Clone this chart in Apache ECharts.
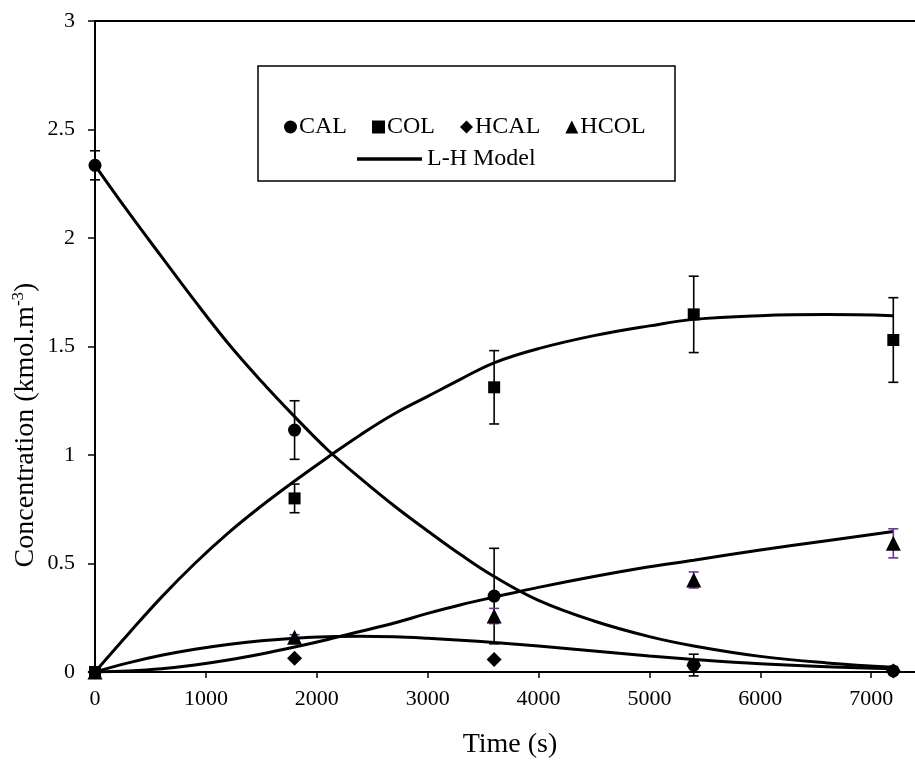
<!DOCTYPE html>
<html>
<head>
<meta charset="utf-8">
<script src="https://cdn.jsdelivr.net/npm/echarts@6/dist/echarts.min.js"></script>
<style>html,body{margin:0;padding:0;background:#fff;}#c{width:915px;height:762px;}</style>
</head>
<body>
<div id="c"></div>
<script>
// Experimental data
const expTime = [0, 1800, 3600, 5400, 7200];
const CAL = [2.335, 1.115, 0.35, 0.032, 0.005];
const CAL_err = [0.067, 0.135, 0.22, 0.05, 0];
const COL = [0, 0.80, 1.312, 1.648, 1.53];
const COL_err = [0, 0.066, 0.169, 0.176, 0.195];
const HCAL = [0, 0.063, 0.058, 0.03, 0.005];
const HCAL_err = [0, 0.005, 0.006, 0.005, 0];
const HCOL = [0, 0.16, 0.258, 0.424, 0.593];
const HCOL_err = [0, 0.012, 0.035, 0.037, 0.067];

// L-H Model curves
const modelTime = [0, 300, 600, 900, 1200, 1500, 1800, 2100, 2400, 2700, 3000, 3300, 3600, 4000, 4500, 5000, 5400, 6000, 6600, 7200];
const CAL_model = [2.335, 2.12, 1.914, 1.71, 1.515, 1.34, 1.177, 1.023, 0.89, 0.765, 0.65, 0.54, 0.44, 0.33, 0.235, 0.163, 0.12, 0.072, 0.042, 0.022];
const COL_model = [0, 0.175, 0.345, 0.50, 0.64, 0.765, 0.88, 0.99, 1.095, 1.19, 1.27, 1.35, 1.425, 1.49, 1.55, 1.595, 1.625, 1.642, 1.647, 1.642];
const HCAL_model = [0, 0.042, 0.077, 0.105, 0.127, 0.144, 0.156, 0.163, 0.165, 0.162, 0.155, 0.146, 0.136, 0.12, 0.097, 0.074, 0.058, 0.038, 0.024, 0.015];
const HCOL_model = [0, 0.005, 0.015, 0.032, 0.055, 0.083, 0.115, 0.15, 0.188, 0.226, 0.27, 0.31, 0.345, 0.39, 0.44, 0.485, 0.515, 0.562, 0.605, 0.647];

const xTicks = [0, 1000, 2000, 3000, 4000, 5000, 6000, 7000];
const yTicks = [0, 0.5, 1, 1.5, 2, 2.5, 3];

const FONT = 'Liberation Serif';
const pair = (xs, ys) => xs.map((x, i) => [x, ys[i]]);
const errData = (ys, es) => expTime.map((x, i) => [x, ys[i] - es[i], ys[i] + es[i]]).filter((d, i) => es[i] > 0);

function errSeries(ys, es, color) {
  return {
    type: 'custom', silent: true, z: 4,
    data: errData(ys, es),
    renderItem: function (params, api) {
      const x = api.value(0);
      const lo = api.coord([x, api.value(1)]);
      const hi = api.coord([x, api.value(2)]);
      const w = 5;
      const st = { stroke: color, lineWidth: 1.6 };
      return {
        type: 'group', children: [
          { type: 'line', shape: { x1: lo[0], y1: lo[1], x2: hi[0], y2: hi[1] }, style: st },
          { type: 'line', shape: { x1: lo[0] - w, y1: lo[1], x2: lo[0] + w, y2: lo[1] }, style: st },
          { type: 'line', shape: { x1: hi[0] - w, y1: hi[1], x2: hi[0] + w, y2: hi[1] }, style: st }
        ]
      };
    }
  };
}
function modelSeries(ys) {
  return {
    name: 'L-H Model', type: 'line', data: pair(modelTime, ys), smooth: 0.4,
    symbol: 'none', lineStyle: { color: '#000', width: 3 }, itemStyle: { color: '#000' }, z: 3
  };
}
function scatterSeries(name, ys, symbol, size) {
  return {
    name: name, type: 'scatter', data: pair(expTime, ys), symbol: symbol, symbolSize: size,
    itemStyle: { color: '#000', opacity: 1 }, z: 5
  };
}

const chart = echarts.init(document.getElementById('c'));
chart.setOption({
  animation: false,
  backgroundColor: '#fff',
  grid: { left: 95, top: 21, width: 887, height: 651, containLabel: false, outerBoundsMode: 'none',
    show: true, borderColor: '#000', borderWidth: 2, backgroundColor: 'transparent' },
  xAxis: {
    type: 'value', min: 0, max: 8000, interval: 1000,
    axisLine: { show: true, lineStyle: { color: '#000', width: 2 } },
    axisTick: { show: true, inside: false, length: 6, lineStyle: { color: '#000', width: 1.5 } },
    axisLabel: { color: '#000', fontFamily: FONT, fontSize: 22, margin: 16,
      formatter: v => xTicks.indexOf(v) >= 0 ? String(v) : '' },
    splitLine: { show: false }
  },
  yAxis: {
    type: 'value', min: 0, max: 3, interval: 0.5,
    axisLine: { show: true, lineStyle: { color: '#000', width: 2 } },
    axisTick: { show: true, inside: false, length: 7, lineStyle: { color: '#000', width: 1.5 } },
    axisLabel: { color: '#000', fontFamily: FONT, fontSize: 22, margin: 20,
      formatter: v => yTicks.indexOf(v) >= 0 ? String(v) : '' },
    splitLine: { show: false }
  },
  legend: [
    {
      data: ['CAL', 'COL', 'HCAL', 'HCOL'], left: 279, top: 110, orient: 'horizontal',
      itemWidth: 13, itemHeight: 13, itemGap: 25, selectedMode: false,
      textStyle: { color: '#000', fontFamily: FONT, fontSize: 24, padding: [0, 0, 0, -3] }
    },
    {
      data: [{ name: 'L-H Model', icon: 'rect' }], left: 352, top: 142, orient: 'horizontal',
      itemWidth: 65, itemHeight: 3.5, selectedMode: false,
      textStyle: { color: '#000', fontFamily: FONT, fontSize: 24 }
    }
  ],
  graphic: [
    { type: 'rect', shape: { x: 258, y: 66, width: 417, height: 115 }, style: { fill: 'none', stroke: '#000', lineWidth: 1.5 }, z: 1 },
    { type: 'text', x: 510, y: 745, style: { text: 'Time (s)', font: '28px "Liberation Serif"', fill: '#000', align: 'center', verticalAlign: 'middle' } },
    { type: 'text', x: 26, y: 425, rotation: Math.PI / 2,
      style: {
        text: '{a|Concentration (kmol.m}{s|-3}{a|)}', align: 'center', verticalAlign: 'middle',
        rich: {
          a: { fontFamily: FONT, fontSize: 28, fill: '#000', color: '#000', lineHeight: 32 },
          s: { fontFamily: FONT, fontSize: 17, fill: '#000', color: '#000', lineHeight: 32, verticalAlign: 'top', padding: [0, 0, 13, 0] }
        }
      } }
  ],
  series: [
    modelSeries(CAL_model), modelSeries(COL_model), modelSeries(HCAL_model), modelSeries(HCOL_model),
    errSeries(CAL, CAL_err, '#000'), errSeries(COL, COL_err, '#000'),
    errSeries(HCAL, HCAL_err, '#FFC000'), errSeries(HCOL, HCOL_err, '#7030A0'),
    scatterSeries('CAL', CAL, 'circle', 13),
    scatterSeries('COL', COL, 'rect', 12),
    scatterSeries('HCAL', HCAL, 'diamond', 15),
    scatterSeries('HCOL', HCOL, 'triangle', 15)
  ]
});
</script>
</body>
</html>
